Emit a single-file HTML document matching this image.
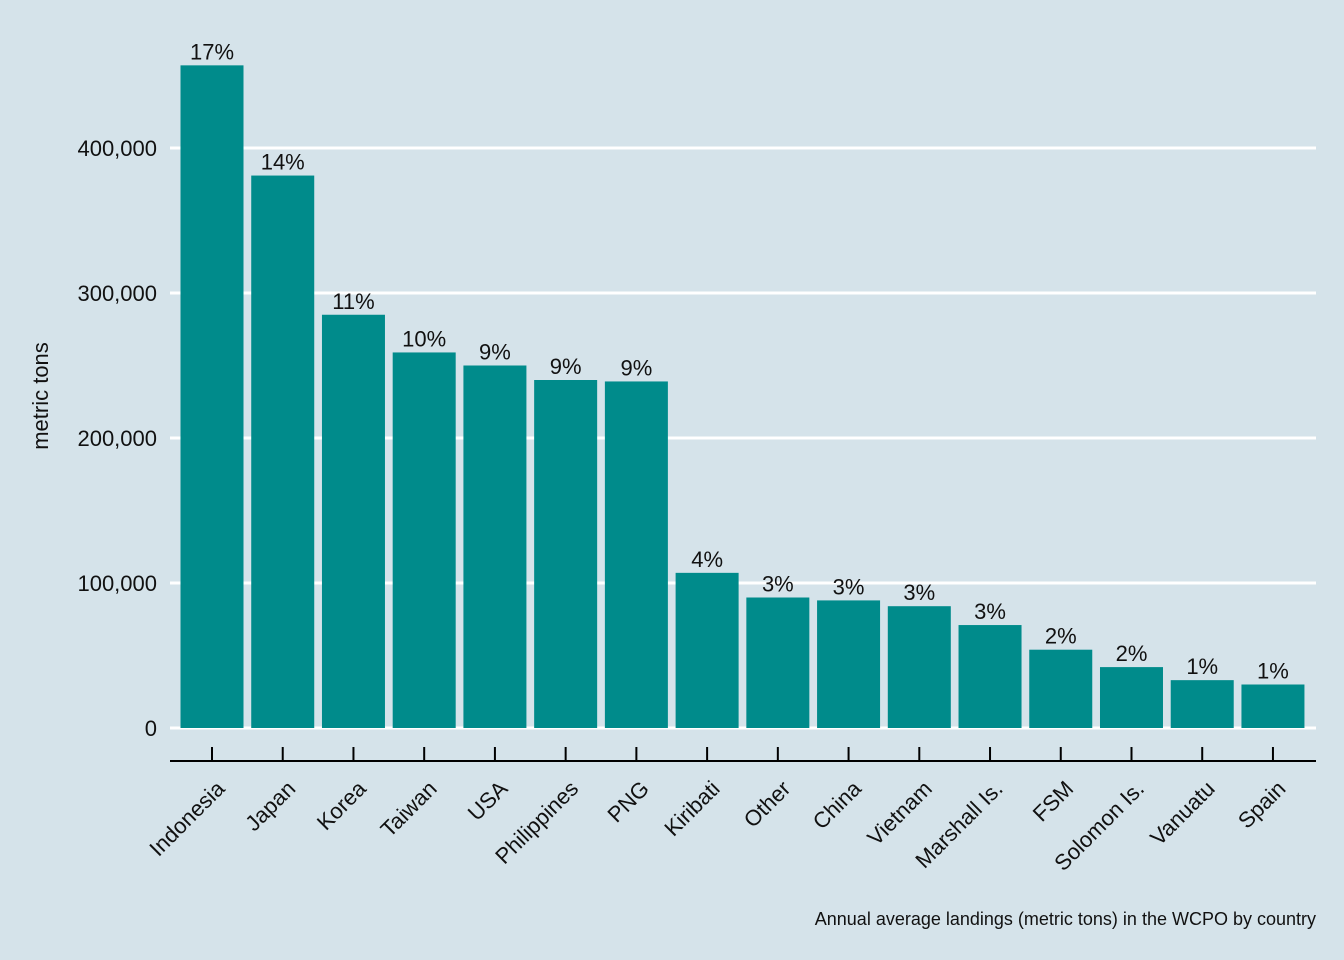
<!DOCTYPE html>
<html><head><meta charset="utf-8"><style>
body{margin:0;background:#d5e3ea}
svg{display:block;font-family:"Liberation Sans",Arial,sans-serif}
</style></head><body>
<svg id="c" width="1344" height="960">
<rect width="1344" height="960" fill="#d5e3ea"/>
</svg>
<script>
const categories=["Indonesia","Japan","Korea","Taiwan","USA","Philippines","PNG","Kiribati","Other","China","Vietnam","Marshall Is.","FSM","Solomon Is.","Vanuatu","Spain"];
const values=[457000,381000,285000,259000,250000,240000,239000,107000,90000,88000,84000,71000,54000,42000,33000,30000];
const pctLabels=["17%","14%","11%","10%","9%","9%","9%","4%","3%","3%","3%","3%","2%","2%","1%","1%"];
const yTicks=[0,100000,200000,300000,400000];
const yTickLabels=["0","100,000","200,000","300,000","400,000"];
const NS="http://www.w3.org/2000/svg";
const svg=document.getElementById("c");
const y=v=>728-v*0.00145;
const x=i=>212+i*70.73;
const bw=63;
function mk(t,a,p){const e=document.createElementNS(NS,t);for(const k in a)e.setAttribute(k,a[k]);(p||svg).appendChild(e);return e;}
yTicks.forEach((v,i)=>{
  const g=mk("line",{x1:170,x2:1316,y1:y(v),y2:y(v),stroke:"#fff","stroke-width":3});
  
  
  const t=mk("text",{x:157,y:y(v)+8,"text-anchor":"end","font-size":22,fill:"#111"});
  t.textContent=yTickLabels[i];
  
  
});
categories.forEach((c,i)=>{
  const r=mk("rect",{x:x(i)-bw/2,y:y(values[i]),width:bw,height:y(0)-y(values[i]),fill:"#008b8b"});
  
  
  const p=mk("text",{x:x(i),y:y(values[i])-6,"text-anchor":"middle","font-size":22,fill:"#111"});
  p.textContent=pctLabels[i];
  
  
  const tk=mk("line",{x1:x(i),x2:x(i),y1:747,y2:761,stroke:"#000","stroke-width":2});
  
  
  const l=mk("text",{x:0,y:0,"text-anchor":"end","font-size":22,fill:"#111",transform:`translate(${x(i)+14},${790}) rotate(-45)`});
  l.textContent=c;
  
  
});
const ax=mk("line",{x1:170,x2:1316,y1:761,y2:761,stroke:"#000","stroke-width":2});


const yt=mk("text",{x:0,y:0,"text-anchor":"middle","font-size":22,fill:"#111",transform:"translate(48,396) rotate(-90)"});
yt.textContent="metric tons";


const cap=mk("text",{x:1316,y:925,"text-anchor":"end","font-size":18,fill:"#111"});
cap.textContent="Annual average landings (metric tons) in the WCPO by country";


</script>
</body></html>
